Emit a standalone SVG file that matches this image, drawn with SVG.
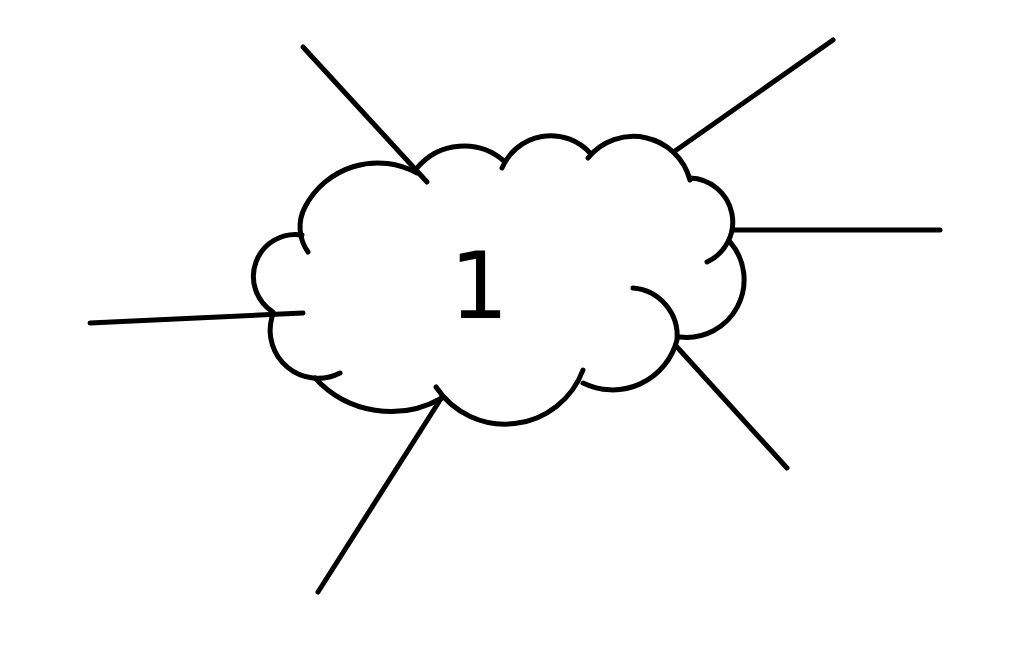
<svg xmlns="http://www.w3.org/2000/svg" width="1024" height="667" viewBox="0 0 1024 667">
  <style>
    .ink { fill: none; stroke: #000; stroke-width: 5; stroke-linecap: round; stroke-linejoin: round; }
    .label { font-family: "DejaVu Sans", "Liberation Sans", sans-serif; font-size: 93px; fill: #000; }
  </style>
  <rect width="1024" height="667" fill="#fff"/>
  <g id="cloud">
    <path class="ink" d="M308,252 A43,43 0 0,1 305,207 A82,82 0 0,1 417,173"/>
    <path class="ink" d="M417,168 A61,61 0 0,1 504,161"/>
    <path class="ink" d="M502,168 A53,53 0 0,1 590,153"/>
    <path class="ink" d="M588,158 A58.5,58.5 0 0,1 690,180"/>
    <path class="ink" d="M690,178 A44,44 0 0,1 707,262"/>
    <path class="ink" d="M730,242 A57.6,57.6 0 0,1 680,337"/>
    <path class="ink" d="M633,288 A48,48 0 0,1 677,340 A66.6,66.6 0 0,1 583,383"/>
    <path class="ink" d="M583,370 A83,83 0 0,1 436,387"/>
    <path class="ink" d="M442,398 A103,103 0 0,1 315,378"/>
    <path class="ink" d="M340,373 A48,48 0 0,1 272,317"/>
    <path class="ink" d="M273,312 A42,42 0 0,1 302,235"/>
    <text class="label" x="479" y="318" text-anchor="middle">1</text>
  </g>
  <g id="connectors">
    <line class="ink" x1="303" y1="47" x2="427" y2="182"/>
    <line class="ink" x1="833" y1="40" x2="675" y2="151"/>
    <line class="ink" x1="733" y1="230" x2="940" y2="230"/>
    <line class="ink" x1="90" y1="323" x2="303" y2="313"/>
    <line class="ink" x1="318" y1="592" x2="442" y2="397"/>
    <line class="ink" x1="677" y1="347" x2="787" y2="468"/>
  </g>
</svg>
